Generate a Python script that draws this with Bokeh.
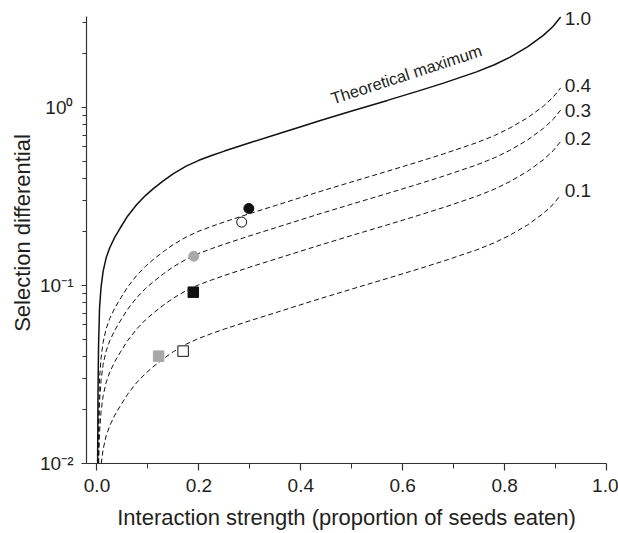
from bokeh.plotting import figure
from bokeh.models import Range1d, FixedTicker, NumeralTickFormatter, Label
from bokeh.embed import file_html
from bokeh.resources import INLINE

# Theoretical maximum curve
max_x = [0.0012, 0.002, 0.003, 0.005, 0.008, 0.012, 0.018, 0.025, 0.035, 0.045, 0.06, 0.078,
         0.095, 0.11, 0.13, 0.15, 0.175, 0.20, 0.225, 0.25, 0.30, 0.35, 0.40, 0.44, 0.50, 0.57,
         0.63, 0.68, 0.745, 0.78, 0.81, 0.845, 0.876, 0.895, 0.91]
max_y = [0.010, 0.025, 0.045, 0.075, 0.098, 0.120, 0.143, 0.163, 0.187, 0.209, 0.245, 0.285,
         0.320, 0.349, 0.387, 0.425, 0.468, 0.505, 0.537, 0.569, 0.634, 0.703, 0.780, 0.847, 0.955, 1.096,
         1.236, 1.371, 1.585, 1.738, 1.914, 2.188, 2.541, 2.851, 3.221]

# Dashed curves (0.4, 0.3, 0.2, 0.1 of the maximum)
f04_x = max_x[1:]
f04_y = [0.010, 0.018, 0.030, 0.0392, 0.048, 0.0572, 0.0652, 0.0748, 0.0836, 0.098, 0.114,
         0.128, 0.1396, 0.1548, 0.170, 0.1872, 0.202, 0.2148, 0.2276, 0.2536, 0.2812, 0.312, 0.3388, 0.382, 0.4384,
         0.4944, 0.5484, 0.634, 0.6952, 0.7656, 0.8752, 1.0164, 1.1404, 1.2884]
f03_x = [0.0025] + max_x[2:]
f03_y = [0.010, 0.0135, 0.0225, 0.0294, 0.036, 0.0429, 0.0489, 0.0561, 0.0627, 0.0735, 0.0855,
         0.096, 0.1047, 0.1161, 0.1275, 0.1404, 0.1515, 0.1611, 0.1707, 0.1902, 0.2109, 0.234, 0.2541, 0.2865, 0.3288,
         0.3708, 0.4113, 0.4755, 0.5214, 0.5742, 0.6564, 0.7623, 0.8553, 0.9663]
f02_x = [0.0033] + max_x[3:]
f02_y = [0.010, 0.015, 0.0196, 0.024, 0.0286, 0.0326, 0.0374, 0.0418, 0.049, 0.057,
         0.064, 0.0698, 0.0774, 0.085, 0.0936, 0.101, 0.1074, 0.1138, 0.1268, 0.1406, 0.156, 0.1694, 0.191, 0.2192,
         0.2472, 0.2742, 0.317, 0.3476, 0.3828, 0.4376, 0.5082, 0.5702, 0.6442]
f01_x = [0.0083] + max_x[5:]
f01_y = [0.010, 0.0120, 0.0143, 0.0163, 0.0187, 0.0209, 0.0245, 0.0285,
         0.032, 0.0349, 0.0387, 0.0425, 0.0468, 0.0505, 0.0537, 0.0569, 0.0634, 0.0703, 0.078, 0.0847, 0.0955, 0.1096,
         0.1236, 0.1371, 0.1585, 0.1738, 0.1914, 0.2188, 0.2541, 0.2851, 0.3221]

curve_labels = ["1.0", "0.4", "0.3", "0.2", "0.1"]
curve_label_y = [3.17, 1.33, 0.962, 0.667, 0.342]

# Observed points
pt_x = [0.298, 0.284, 0.190, 0.189, 0.169, 0.121]
pt_y = [0.271, 0.227, 0.146, 0.0917, 0.0428, 0.0401]

x_ticks = [0.0, 0.2, 0.4, 0.6, 0.8, 1.0]
x_minor = [0.1, 0.3, 0.5, 0.7, 0.9]
y_ticks = [0.01, 0.1, 1.0]
y_minor = [0.02, 0.03, 0.04, 0.05, 0.06, 0.07, 0.08, 0.09,
           0.2, 0.3, 0.4, 0.5, 0.6, 0.7, 0.8, 0.9, 2, 3]
y_tick_labels = ["10\u207b\u00b2", "10\u207b\u00b9", "10\u2070"]
y_axis_top = 3.24

FONT = "Liberation Sans"
TXT = "#231f20"

p = figure(frame_width=520, frame_height=461, x_range=Range1d(-0.0206, 1.0), y_range=Range1d(0.01, 3.889),
           y_axis_type="log", output_backend="svg", toolbar_location=None,
           min_border_left=86, min_border_top=2, min_border_right=12, min_border_bottom=70)
p.outline_line_color = None
p.grid.visible = False

p.line(max_x, max_y, line_color="#111111", line_width=1.5)
for xs, ys in [(f04_x, f04_y), (f03_x, f03_y), (f02_x, f02_y), (f01_x, f01_y)]:
    p.line(xs, ys, line_color="#111111", line_width=1.0, line_dash="5 3")

# markers
p.scatter([pt_x[0]], [pt_y[0]], marker="circle", size=10, fill_color="#111111", line_color="#111111")
p.scatter([pt_x[1]], [pt_y[1]], marker="circle", size=10, fill_color="white", line_color="#111111", line_width=1)
p.scatter([pt_x[2]], [pt_y[2]], marker="circle", size=10, fill_color="#a8a8a8", line_color="#a8a8a8")
p.scatter([pt_x[3]], [pt_y[3]], marker="square", size=10.5, fill_color="#111111", line_color="#111111")
p.scatter([pt_x[4]], [pt_y[4]], marker="square", size=10.5, fill_color="white", line_color="#111111", line_width=1)
p.scatter([pt_x[5]], [pt_y[5]], marker="square", size=10.5, fill_color="#a8a8a8", line_color="#a8a8a8")

for t, yv in zip(curve_labels, curve_label_y):
    p.add_layout(Label(x=0.918, y=yv, text=t, text_font=FONT, text_font_size="19px",
                       text_color=TXT, text_align="left", text_baseline="middle"))

p.add_layout(Label(x=0.46, y=1.12, text="Theoretical maximum", angle=0.315, text_font=FONT,
                   text_font_size="16.5px", text_color=TXT, text_align="left", text_baseline="alphabetic"))

# axes
p.xaxis.ticker = FixedTicker(ticks=x_ticks, minor_ticks=x_minor)
p.xaxis.formatter = NumeralTickFormatter(format="0.0")
p.yaxis.ticker = FixedTicker(ticks=y_ticks, minor_ticks=y_minor)
p.yaxis.major_label_overrides = {t: l for t, l in zip(y_ticks, y_tick_labels)}
p.yaxis.bounds = (y_ticks[0], y_axis_top)

for ax in (p.xaxis[0], p.yaxis[0]):
    ax.axis_line_color = "#333333"
    ax.axis_line_width = 1.2
    ax.major_tick_line_color = "#333333"
    ax.minor_tick_line_color = "#333333"
    ax.major_tick_line_width = 1.2
    ax.minor_tick_line_width = 1.0
    ax.major_tick_in = 0
    ax.minor_tick_in = 0
    ax.major_label_text_font = FONT
    ax.major_label_text_font_size = "19px"
    ax.major_label_text_color = TXT
    ax.axis_label_text_font = FONT
    ax.axis_label_text_font_size = "22px"
    ax.axis_label_text_font_style = "normal"
    ax.axis_label_text_color = TXT

p.xaxis.major_tick_out = 7
p.xaxis.minor_tick_out = 5
p.xaxis.major_label_standoff = 8
p.xaxis.axis_label = "Interaction strength (proportion of seeds eaten)"
p.xaxis.axis_label_standoff = 10

p.yaxis.major_tick_out = 5
p.yaxis.minor_tick_out = 4
p.yaxis.major_label_standoff = 8
p.yaxis.axis_label = "Selection differential"
p.yaxis.axis_label_standoff = 2

open("out.html", "w").write(file_html(p, INLINE))
